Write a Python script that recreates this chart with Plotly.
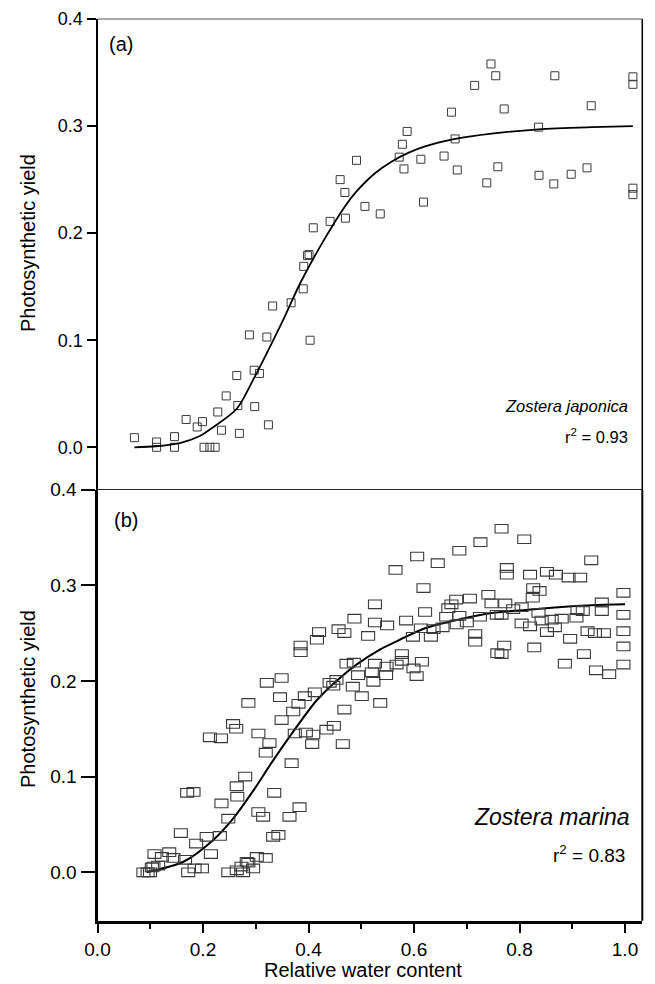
import plotly.graph_objects as go

# ---------------- data ----------------
top_x = [0.070, 0.112, 0.112, 0.146, 0.146, 0.168, 0.189, 0.199, 0.202, 0.213, 0.223, 0.228, 0.235,
         0.244, 0.264, 0.266, 0.269, 0.288, 0.297, 0.307, 0.298, 0.321, 0.324, 0.332, 0.367, 0.390,
         0.391, 0.398, 0.401, 0.403, 0.409, 0.441, 0.470, 0.460, 0.469, 0.491, 0.507, 0.536, 0.572,
         0.581, 0.578, 0.587, 0.613, 0.618, 0.657, 0.671, 0.678, 0.682, 0.715, 0.738, 0.746, 0.755,
         0.759, 0.771, 0.837, 0.836, 0.865, 0.867, 0.898, 0.928, 0.936, 1.015, 1.015, 1.015, 1.015]
top_y = [0.009, 0.005, 0.000, 0.010, 0.000, 0.026, 0.019, 0.024, 0.000, 0.000, 0.000, 0.033, 0.016,
         0.048, 0.067, 0.039, 0.013, 0.105, 0.072, 0.069, 0.038, 0.103, 0.021, 0.132, 0.135, 0.148,
         0.169, 0.179, 0.180, 0.100, 0.205, 0.211, 0.214, 0.250, 0.238, 0.268, 0.225, 0.218, 0.271,
         0.260, 0.283, 0.295, 0.269, 0.229, 0.272, 0.313, 0.288, 0.259, 0.338, 0.247, 0.358, 0.347,
         0.262, 0.316, 0.254, 0.299, 0.246, 0.347, 0.255, 0.261, 0.319, 0.346, 0.339, 0.242, 0.236]

top_fit_x = [0.070, 0.110, 0.156, 0.194, 0.220, 0.264, 0.295, 0.321, 0.352, 0.384, 0.425, 0.469,
             0.491, 0.526, 0.558, 0.589, 0.621, 0.678, 0.747, 0.836, 0.937, 1.015]
top_fit_y = [0.000, 0.001, 0.004, 0.0106, 0.019, 0.036, 0.063, 0.088, 0.119, 0.153, 0.190, 0.225,
             0.239, 0.256, 0.267, 0.275, 0.281, 0.288, 0.293, 0.297, 0.299, 0.300]

bot_x = [0.087, 0.095, 0.0995, 0.103, 0.106, 0.108, 0.115, 0.122, 0.136, 0.144, 0.158, 0.166, 0.170,
         0.172, 0.182, 0.184, 0.187, 0.198, 0.207, 0.213, 0.215, 0.232, 0.234, 0.235, 0.248, 0.248,
         0.257, 0.263, 0.264, 0.265, 0.264, 0.273, 0.276, 0.280, 0.283, 0.286, 0.286, 0.295, 0.302,
         0.305, 0.305, 0.314, 0.319, 0.319, 0.321, 0.326, 0.333, 0.335, 0.343, 0.346, 0.349, 0.349,
         0.364, 0.368, 0.371, 0.374, 0.381, 0.383, 0.385, 0.385, 0.393, 0.395, 0.407, 0.409, 0.412,
         0.416, 0.420, 0.434, 0.440, 0.447, 0.448, 0.453, 0.457, 0.465, 0.468, 0.468, 0.472, 0.484,
         0.486, 0.487, 0.494, 0.501, 0.513, 0.520, 0.523, 0.526, 0.526, 0.526, 0.536, 0.547, 0.548,
         0.549, 0.565, 0.567, 0.577, 0.577, 0.585, 0.598, 0.599, 0.605, 0.606, 0.613, 0.615, 0.618,
         0.621, 0.632, 0.637, 0.645, 0.654, 0.661, 0.665, 0.671, 0.680, 0.681, 0.686, 0.686, 0.700,
         0.706, 0.716, 0.716, 0.725, 0.726, 0.741, 0.747, 0.757, 0.758, 0.766, 0.766, 0.766, 0.771,
         0.773, 0.776, 0.776, 0.788, 0.804, 0.804, 0.809, 0.820, 0.820, 0.826, 0.825, 0.828, 0.836,
         0.838, 0.842, 0.852, 0.852, 0.861, 0.867, 0.869, 0.880, 0.886, 0.893, 0.896, 0.908, 0.910,
         0.915, 0.920, 0.922, 0.929, 0.936, 0.943, 0.945, 0.956, 0.956, 0.960, 0.970, 0.997, 0.997,
         0.997, 0.997, 0.997]
bot_y = [0.000, 0.000, 0.000, 0.005, 0.006, 0.019, 0.007, 0.016, 0.021, 0.015, 0.041, 0.013, 0.083,
         0.000, 0.084, 0.004, 0.030, 0.004, 0.037, 0.141, 0.019, 0.038, 0.140, 0.072, 0.056, 0.000,
         0.155, 0.150, 0.090, 0.079, 0.002, 0.006, 0.000, 0.100, 0.011, 0.177, 0.010, 0.004, 0.016,
         0.063, 0.145, 0.058, 0.015, 0.125, 0.198, 0.135, 0.037, 0.083, 0.039, 0.183, 0.159, 0.203,
         0.058, 0.114, 0.168, 0.145, 0.176, 0.068, 0.237, 0.230, 0.184, 0.146, 0.134, 0.144, 0.188,
         0.243, 0.251, 0.149, 0.198, 0.195, 0.153, 0.201, 0.254, 0.134, 0.250, 0.170, 0.218, 0.194,
         0.219, 0.265, 0.206, 0.184, 0.247, 0.209, 0.199, 0.280, 0.261, 0.218, 0.177, 0.206, 0.215,
         0.258, 0.316, 0.217, 0.228, 0.221, 0.263, 0.246, 0.213, 0.205, 0.330, 0.255, 0.220, 0.297,
         0.272, 0.246, 0.254, 0.323, 0.256, 0.267, 0.276, 0.280, 0.285, 0.259, 0.336, 0.268, 0.261,
         0.286, 0.249, 0.241, 0.267, 0.345, 0.290, 0.281, 0.269, 0.229, 0.359, 0.269, 0.228, 0.237,
         0.281, 0.318, 0.311, 0.275, 0.277, 0.260, 0.348, 0.311, 0.257, 0.297, 0.287, 0.235, 0.271,
         0.294, 0.263, 0.314, 0.251, 0.264, 0.256, 0.311, 0.265, 0.218, 0.308, 0.244, 0.266, 0.274,
         0.308, 0.273, 0.228, 0.252, 0.326, 0.250, 0.211, 0.282, 0.273, 0.250, 0.207, 0.292, 0.269,
         0.252, 0.236, 0.217]

bot_fit_x = [0.093, 0.163, 0.220, 0.257, 0.295, 0.333, 0.371, 0.416, 0.453, 0.491, 0.536, 0.558,
             0.621, 0.684, 0.747, 0.810, 0.874, 0.937, 1.000]
bot_fit_y = [0.000, 0.011, 0.034, 0.056, 0.085, 0.117, 0.147, 0.180, 0.200, 0.217, 0.233, 0.239,
             0.255, 0.264, 0.271, 0.274, 0.277, 0.279, 0.280]

x_ticks = [0.0, 0.2, 0.4, 0.6, 0.8, 1.0]
x_minor = [0.1, 0.3, 0.5, 0.7, 0.9]
y_ticks = [0.0, 0.1, 0.2, 0.3, 0.4]

# ---------------- layout geometry ----------------
# the page body has an 8px margin, so the figure starts at (8, 8) in the window
OFF = 8
W, H = 655 - OFF, 984 - OFF
FONT = "Liberation Sans, Arial, sans-serif"
def px(v):
    return (v - OFF) / W
def py(v):
    return 1 - (v - OFF) / H

x0p, x1p = px(97.5), px(642.3)
top_top, mid, bot_bot = py(19), py(489.5), py(920.7)

fig = go.Figure()

marker_col = "#3a3a3a"
fig.add_trace(go.Scatter(x=top_x, y=top_y, mode="markers", xaxis="x2", yaxis="y2",
                         marker=dict(symbol="square-open", size=8, color=marker_col,
                                     line=dict(width=1, color=marker_col)),
                         showlegend=False, hoverinfo="x+y"))
fig.add_trace(go.Scatter(x=top_fit_x, y=top_fit_y, mode="lines", xaxis="x2", yaxis="y2",
                         line=dict(color="black", width=1.8, shape="spline", smoothing=0.8),
                         showlegend=False))
# bottom points: the data trace (hover) + open rectangles drawn at each data point
fig.add_trace(go.Scatter(x=bot_x, y=bot_y, mode="markers", xaxis="x", yaxis="y",
                         marker=dict(symbol="square", size=10, color="rgba(0,0,0,0)"),
                         showlegend=False, hoverinfo="x+y"))
for xv, yv in zip(bot_x, bot_y):
    fig.add_shape(type="rect", xref="x", yref="y", xsizemode="pixel", ysizemode="pixel",
                  xanchor=xv, yanchor=yv, x0=-6.5, x1=6.5, y0=-4.3, y1=4.3,
                  line=dict(color=marker_col, width=1.1), fillcolor="rgba(0,0,0,0)", layer="above")
fig.add_trace(go.Scatter(x=bot_fit_x, y=bot_fit_y, mode="lines", xaxis="x", yaxis="y",
                         line=dict(color="black", width=2, shape="spline", smoothing=0.8),
                         showlegend=False))

tick_txt = [f"{v:.1f}" for v in x_ticks]
ytick_txt = [f"{v:.1f}" for v in y_ticks]

fig.update_layout(
    width=W, height=H,
    margin=dict(l=0, r=0, t=0, b=0, autoexpand=False),
    paper_bgcolor="white", plot_bgcolor="white",
    font=dict(family=FONT, color="black"),
    xaxis=dict(domain=[x0p, x1p], anchor="y", range=[0, 1.0328], automargin=False,
               showgrid=False, zeroline=False,
               showline=True, linewidth=3, linecolor="black",
               ticks="outside", ticklen=9, tickwidth=2, tickcolor="black",
               tickvals=x_ticks, ticktext=tick_txt,
               tickfont=dict(size=19, family=FONT),
               minor=dict(ticks="outside", ticklen=5, tickwidth=2, tickcolor="black",
                          tickvals=x_minor, showgrid=False)),
    yaxis=dict(domain=[bot_bot, mid], anchor="x", range=[-0.0506, 0.4], automargin=False,
               showgrid=False, zeroline=False,
               showline=True, linewidth=3, linecolor="black",
               ticks="outside", ticklen=14, tickwidth=1.5, tickcolor="black",
               tickvals=y_ticks, ticktext=ytick_txt,
               tickfont=dict(size=19, family=FONT)),
    xaxis2=dict(domain=[x0p, x1p], anchor="y2", range=[0, 1.0328], matches="x", automargin=False,
                showgrid=False, zeroline=False, showline=False,
                showticklabels=False, ticks=""),
    yaxis2=dict(domain=[mid, top_top], anchor="x2", range=[-0.0394, 0.4], automargin=False,
                showgrid=False, zeroline=False,
                showline=True, linewidth=2, linecolor="black",
                ticks="outside", ticklen=9, tickwidth=1.5, tickcolor="black",
                tickvals=y_ticks, ticktext=ytick_txt,
                tickfont=dict(size=18, family=FONT)),
)

# frame lines
fig.add_shape(type="line", xref="paper", yref="paper", x0=x0p, x1=x1p, y0=top_top, y1=top_top,
              line=dict(color="#555555", width=1.2))
fig.add_shape(type="line", xref="paper", yref="paper", x0=x0p, x1=x1p, y0=mid, y1=mid,
              line=dict(color="#222222", width=1.2))
fig.add_shape(type="line", xref="paper", yref="paper", x0=x1p, x1=x1p, y0=bot_bot, y1=mid,
              line=dict(color="black", width=2))
fig.add_shape(type="line", xref="paper", yref="paper", x0=x1p, x1=x1p, y0=mid, y1=top_top,
              line=dict(color="black", width=1.5))

def ann(text, x, y, size, xanchor="left", yanchor="middle", textangle=0):
    fig.add_annotation(text=text, xref="paper", yref="paper", x=px(x), y=py(y),
                       xanchor=xanchor, yanchor=yanchor, showarrow=False, textangle=textangle,
                       font=dict(size=size, family=FONT, color="black"))

ann("(a)", 107, 44, 20)
ann("(b)", 112, 520, 20)
ann("<i>Zostera japonica</i>", 630, 406, 16.5, xanchor="right")
ann("r<sup>2</sup> = 0.93", 630, 436, 16.5, xanchor="right")
ann("<i>Zostera marina</i>", 632, 817, 23, xanchor="right")
ann("r<sup>2</sup> = 0.83", 627, 854, 19, xanchor="right")
ann("Photosynthetic yield", 28, 243, 20, xanchor="center", textangle=-90)
ann("Photosynthetic yield", 28, 699, 20, xanchor="center", textangle=-90)
ann("Relative water content", 363, 970, 20, xanchor="center")

fig.write_html("out.html")
